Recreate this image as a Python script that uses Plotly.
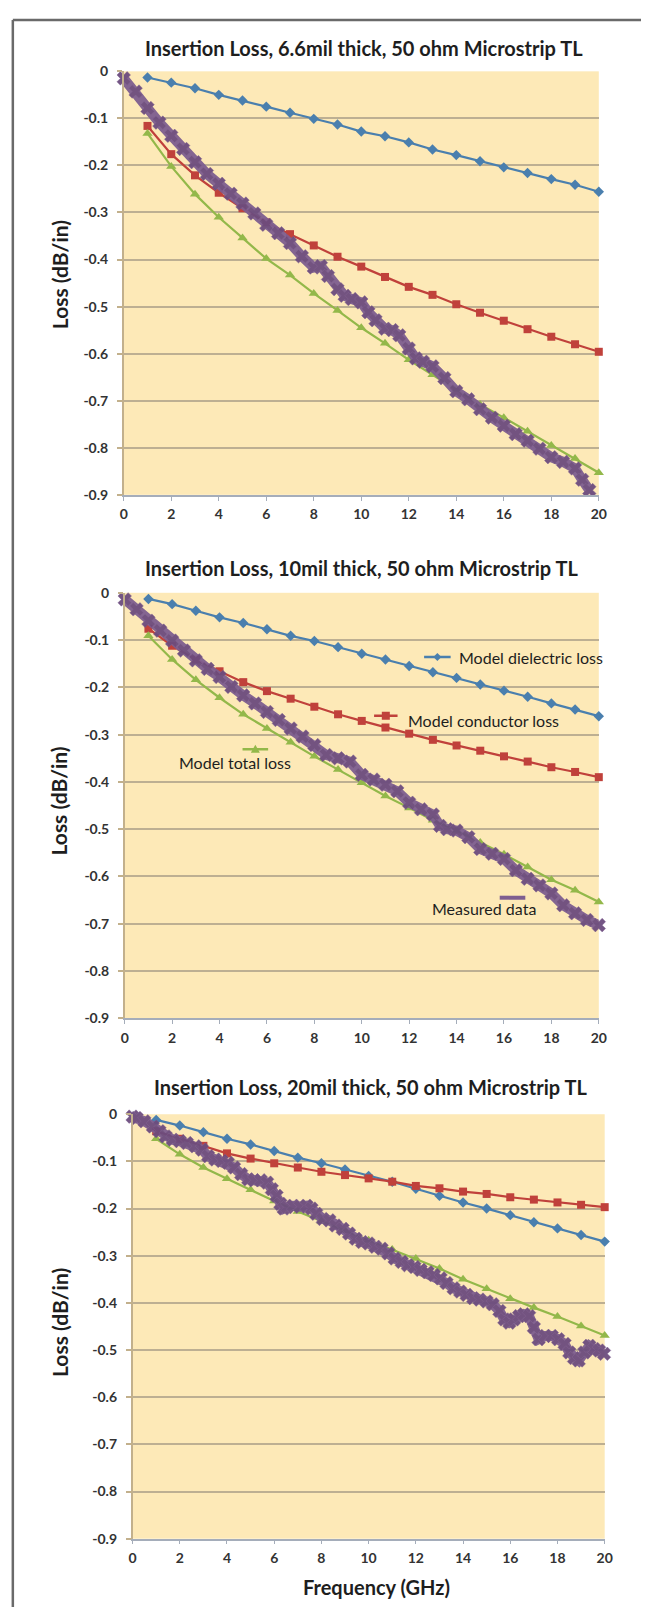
import plotly.graph_objects as go

W, H = 649, 1615

# ---------------- data ----------------
freq_model = [1, 2, 3, 4, 5, 6, 7, 8, 9, 10, 11, 12, 13, 14, 15, 16, 17, 18, 19, 20]
x_ticks = [0, 2, 4, 6, 8, 10, 12, 14, 16, 18, 20]
y_ticks = [0, -0.1, -0.2, -0.3, -0.4, -0.5, -0.6, -0.7, -0.8, -0.9]
y_ticktext = ["0", "-0.1", "-0.2", "-0.3", "-0.4", "-0.5", "-0.6", "-0.7", "-0.8", "-0.9"]

titles = ["Insertion Loss, 6.6mil thick, 50 ohm Microstrip TL",
          "Insertion Loss, 10mil thick, 50 ohm Microstrip TL",
          "Insertion Loss, 20mil thick, 50 ohm Microstrip TL"]
series_names = ["Model dielectric loss", "Model conductor loss", "Model total loss", "Measured data"]

# Panel 1: 6.6 mil
p1_diel = [-0.013, -0.024, -0.036, -0.050, -0.062, -0.075, -0.088, -0.101, -0.113, -0.128,
           -0.138, -0.151, -0.166, -0.178, -0.191, -0.204, -0.216, -0.229, -0.241, -0.256]
p1_cond = [-0.116, -0.176, -0.221, -0.258, -0.291, -0.321, -0.346, -0.370, -0.394, -0.415,
           -0.437, -0.458, -0.475, -0.495, -0.513, -0.530, -0.548, -0.564, -0.580, -0.596]
p1_total = [-0.132, -0.202, -0.261, -0.310, -0.354, -0.398, -0.433, -0.472, -0.508, -0.545,
            -0.578, -0.613, -0.645, -0.676, -0.708, -0.736, -0.765, -0.795, -0.823, -0.853]
p1_meas_f = [0, 0.5, 1, 1.5, 2, 2.5, 3, 3.5, 4, 4.5, 5, 5.5, 6, 6.5, 7, 7.5, 8, 8.3, 8.6, 9,
             9.3, 9.6, 10, 10.3, 10.6, 11, 11.3, 11.6, 12, 12.3, 12.6, 13, 13.5, 14, 14.5, 15,
             15.5, 16, 16.5, 17, 17.5, 18, 18.5, 19, 19.3, 19.6]
p1_meas = [-0.015, -0.043, -0.078, -0.109, -0.137, -0.165, -0.193, -0.218, -0.239, -0.260,
           -0.281, -0.302, -0.326, -0.344, -0.365, -0.393, -0.417, -0.414, -0.435, -0.463,
           -0.477, -0.484, -0.491, -0.512, -0.529, -0.547, -0.550, -0.561, -0.589, -0.610,
           -0.617, -0.627, -0.652, -0.680, -0.697, -0.718, -0.736, -0.753, -0.771, -0.785,
           -0.802, -0.820, -0.830, -0.844, -0.868, -0.890]

# Panel 2: 10 mil
p2_diel = [-0.013, -0.024, -0.038, -0.052, -0.064, -0.077, -0.091, -0.102, -0.115, -0.129,
           -0.141, -0.155, -0.168, -0.180, -0.194, -0.207, -0.220, -0.234, -0.247, -0.261]
p2_cond = [-0.076, -0.112, -0.141, -0.166, -0.189, -0.208, -0.224, -0.241, -0.257, -0.271,
           -0.285, -0.298, -0.311, -0.323, -0.334, -0.346, -0.357, -0.369, -0.379, -0.390]
p2_total = [-0.091, -0.141, -0.184, -0.222, -0.257, -0.287, -0.316, -0.346, -0.374, -0.402,
            -0.430, -0.455, -0.481, -0.503, -0.528, -0.553, -0.580, -0.607, -0.629, -0.654]
p2_meas_f = [0, 0.5, 1, 1.5, 2, 2.5, 3, 3.5, 4, 4.5, 5, 5.5, 6, 6.5, 7, 7.5, 8, 8.5, 9, 9.5,
             10, 10.5, 11, 11.5, 12, 12.5, 13, 13.3, 13.6, 14, 14.5, 15, 15.5, 16, 16.5, 17,
             17.5, 18, 18.5, 19, 19.5, 20]
p2_meas = [-0.014, -0.035, -0.059, -0.080, -0.101, -0.122, -0.143, -0.161, -0.178, -0.199,
           -0.217, -0.234, -0.252, -0.269, -0.287, -0.304, -0.322, -0.343, -0.350, -0.357,
           -0.385, -0.395, -0.406, -0.420, -0.444, -0.458, -0.469, -0.493, -0.500, -0.503,
           -0.517, -0.542, -0.552, -0.563, -0.587, -0.605, -0.619, -0.636, -0.661, -0.678,
           -0.692, -0.703]

# Panel 3: 20 mil
p3_diel = [-0.012, -0.024, -0.038, -0.052, -0.064, -0.078, -0.092, -0.104, -0.117, -0.131,
           -0.143, -0.158, -0.173, -0.187, -0.200, -0.214, -0.229, -0.242, -0.256, -0.270]
p3_cond = [-0.036, -0.052, -0.067, -0.083, -0.094, -0.104, -0.113, -0.122, -0.129, -0.136,
           -0.143, -0.152, -0.157, -0.164, -0.169, -0.176, -0.181, -0.187, -0.192, -0.197]
p3_total = [-0.052, -0.085, -0.113, -0.137, -0.160, -0.184, -0.206, -0.227, -0.247, -0.267,
            -0.287, -0.306, -0.327, -0.350, -0.370, -0.391, -0.410, -0.429, -0.449, -0.469]
p3_meas_f = [0, 0.17, 0.5, 0.86, 1.14, 1.4, 1.7, 2.0, 2.3, 2.66, 2.94, 3.2, 3.5, 3.77, 4.04,
             4.3, 4.6, 4.9, 5.15, 5.43, 5.7, 5.9, 6.1, 6.26, 6.4, 6.54, 6.8, 7.1, 7.37, 7.58,
             7.78, 8.06, 8.34, 8.6, 8.9, 9.17, 9.45, 9.72, 10.0, 10.28, 10.55, 10.83, 11.1,
             11.4, 11.66, 11.94, 12.2, 12.5, 12.77, 13.05, 13.3, 13.6, 13.88, 14.15, 14.43,
             14.7, 15.0, 15.26, 15.54, 15.75, 15.96, 16.16, 16.37, 16.58, 16.8, 17.0, 17.2,
             17.48, 17.76, 18.03, 18.3, 18.5, 18.7, 18.9, 19.14, 19.35, 19.56, 19.76, 19.97]
p3_meas = [-0.005, -0.008, -0.015, -0.026, -0.036, -0.047, -0.054, -0.057, -0.061, -0.068,
           -0.075, -0.089, -0.096, -0.099, -0.103, -0.113, -0.127, -0.138, -0.140, -0.140,
           -0.145, -0.159, -0.173, -0.190, -0.200, -0.197, -0.194, -0.196, -0.194, -0.200,
           -0.211, -0.222, -0.225, -0.236, -0.243, -0.253, -0.264, -0.271, -0.274, -0.281,
           -0.285, -0.295, -0.306, -0.313, -0.320, -0.324, -0.330, -0.335, -0.341, -0.348,
           -0.358, -0.369, -0.376, -0.383, -0.390, -0.393, -0.397, -0.403, -0.417, -0.435,
           -0.442, -0.435, -0.428, -0.424, -0.428, -0.452, -0.477, -0.470, -0.470, -0.477,
           -0.487, -0.505, -0.517, -0.522, -0.505, -0.491, -0.498, -0.501, -0.508]

# ---------------- style ----------------
C_BLUE = "#4A7FAE"
C_RED = "#C0413B"
C_GREEN = "#93B84A"
C_PURPLE = "#7E5E90"
C_PURPLE_DARK = "#6C4C7E"
BG = "#FDE9B7"
GRID = "#BDAF92"
YLINE = "#C2B08C"
XLINE = "#A5ADBA"
TXT = "#1E1E1E"
FONT = "Lato, 'Liberation Sans', sans-serif"

# plot areas in pixels: (left, right, top, bottom)
areas = [(122, 606, 63, 491), (123, 606, 590, 1020), (131, 612, 1117, 1546)]
title_pos = [(367, 39), (364, 565), (373, 1089)]
ytitle_pos = [(56, 268), (56, 800), (56, 1327)]

fig = go.Figure()

panels = [
    (p1_diel, p1_cond, p1_total, p1_meas_f, p1_meas),
    (p2_diel, p2_cond, p2_total, p2_meas_f, p2_meas),
    (p3_diel, p3_cond, p3_total, p3_meas_f, p3_meas),
]

layout_axes = {}
annotations = []
shapes = []

for i, (diel, cond, total, mf, mv) in enumerate(panels, start=1):
    xa = "x" if i == 1 else f"x{i}"
    ya = "y" if i == 1 else f"y{i}"
    common = dict(xaxis=xa, yaxis=ya, mode="lines+markers", showlegend=False,
                  cliponaxis=False, hoverinfo="x+y")
    fig.add_trace(go.Scatter(x=freq_model, y=diel, name=series_names[0],
                             line=dict(color=C_BLUE, width=2.2),
                             marker=dict(symbol="diamond", size=8, color=C_BLUE), **common))
    fig.add_trace(go.Scatter(x=freq_model, y=cond, name=series_names[1],
                             line=dict(color=C_RED, width=2.2),
                             marker=dict(symbol="square", size=8, color=C_RED), **common))
    fig.add_trace(go.Scatter(x=freq_model, y=total, name=series_names[2],
                             line=dict(color=C_GREEN, width=2.2),
                             marker=dict(symbol="triangle-up", size=9, color=C_GREEN), **common))
    fig.add_trace(go.Scatter(x=mf, y=mv, name=series_names[3],
                             line=dict(color=C_PURPLE, width=10),
                             marker=dict(symbol="x", size=12, color=C_PURPLE_DARK,
                                         line=dict(color=C_PURPLE, width=0.5)),
                             opacity=0.95, **common))

    l, r, t, b = areas[i - 1]
    key = "" if i == 1 else str(i)
    layout_axes["xaxis" + key] = dict(
        domain=[l / W, r / W], range=[0, 20], anchor=ya, tickvals=x_ticks,
        ticks="outside", ticklen=4, tickcolor=XLINE, tickwidth=1,
        showline=True, linecolor=XLINE, linewidth=1.5, showgrid=False, zeroline=False,
        tickfont=dict(family=FONT, size=14, color="#333333", weight="bold"),
        ticklabelstandoff=2, fixedrange=True)
    layout_axes["yaxis" + key] = dict(
        domain=[1 - b / H, 1 - t / H], range=[-0.9, 0], anchor=xa,
        tickvals=y_ticks, ticktext=y_ticktext,
        ticks="outside", ticklen=5, tickcolor=YLINE, tickwidth=1.5,
        showline=True, linecolor=YLINE, linewidth=1.5,
        showgrid=True, gridcolor=GRID, gridwidth=1.5, zeroline=False,
        tickfont=dict(family=FONT, size=14, color="#333333", weight="bold"),
        ticklabelstandoff=6, fixedrange=True)

    tx, ty = title_pos[i - 1]
    annotations.append(dict(text=titles[i - 1], x=tx / W, y=1 - ty / H, xref="paper", yref="paper",
                            xanchor="center", yanchor="middle", showarrow=False,
                            font=dict(family=FONT, size=20, color=TXT, weight="bold")))
    yx, yy = ytitle_pos[i - 1]
    annotations.append(dict(text="Loss (dB/in)", x=yx / W, y=1 - yy / H, xref="paper", yref="paper",
                            xanchor="center", yanchor="middle", textangle=-90, showarrow=False,
                            font=dict(family=FONT, size=21, color=TXT, weight="bold")))

annotations.append(dict(text="Frequency (GHz)", x=380 / W, y=1 - 1595 / H, xref="paper", yref="paper",
                        xanchor="center", yanchor="middle", showarrow=False,
                        font=dict(family=FONT, size=20, color=TXT, weight="bold")))

# in-plot legend labels (panel 2)
legend_items = [
    # name, color, line x0, x1, y, text x, text y, marker
    (series_names[0], C_BLUE, 12.63, 13.75, -0.136, 14.02, -0.136, "diamond"),
    (series_names[1], C_RED, 10.52, 11.51, -0.260, 11.88, -0.270, "square"),
    (series_names[2], C_GREEN, 4.97, 6.05, -0.331, 2.19, -0.358, "triangle"),
    (series_names[3], C_PURPLE, 15.82, 16.90, -0.645, 12.88, -0.668, None),
]
for name, col, lx0, lx1, ly, tx, ty, mk in legend_items:
    annotations.append(dict(text=name, x=tx, y=ty, xref="x2", yref="y2", xanchor="left",
                            yanchor="middle", showarrow=False,
                            font=dict(family=FONT, size=16, color=TXT)))
    shapes.append(dict(type="line", xref="x2", yref="y2", x0=lx0, x1=lx1, y0=ly, y1=ly,
                       line=dict(color=col, width=4 if mk is None else 2.5)))
    xm = (lx0 + lx1) / 2
    if mk == "diamond":
        shapes.append(dict(type="path", xref="x2", yref="y2", xsizemode="pixel", ysizemode="pixel",
                           xanchor=xm, yanchor=ly, path="M -4 0 L 0 4 L 4 0 L 0 -4 Z",
                           fillcolor=col, line=dict(width=0)))
    elif mk == "square":
        shapes.append(dict(type="rect", xref="x2", yref="y2", xsizemode="pixel", ysizemode="pixel",
                           xanchor=xm, yanchor=ly, x0=-4, x1=4, y0=-4, y1=4,
                           fillcolor=col, line=dict(width=0)))
    elif mk == "triangle":
        shapes.append(dict(type="path", xref="x2", yref="y2", xsizemode="pixel", ysizemode="pixel",
                           xanchor=xm, yanchor=ly, path="M -4.5 -3.5 L 4.5 -3.5 L 0 4.5 Z",
                           fillcolor=col, line=dict(width=0)))

# outer frame
shapes.append(dict(type="line", xref="paper", yref="paper", x0=9 / W, x1=1, y0=1 - 11 / H, y1=1 - 11 / H,
                   line=dict(color="#6A6A6A", width=2.5)))
shapes.append(dict(type="line", xref="paper", yref="paper", x0=9 / W, x1=9 / W, y0=0, y1=1 - 11 / H,
                   line=dict(color="#6A6A6A", width=2.5)))

fig.update_layout(
    width=W, height=H, margin=dict(l=0, r=0, t=0, b=0),
    paper_bgcolor="white", plot_bgcolor=BG,
    annotations=annotations, shapes=shapes, **layout_axes)

fig.write_html("out.html")
